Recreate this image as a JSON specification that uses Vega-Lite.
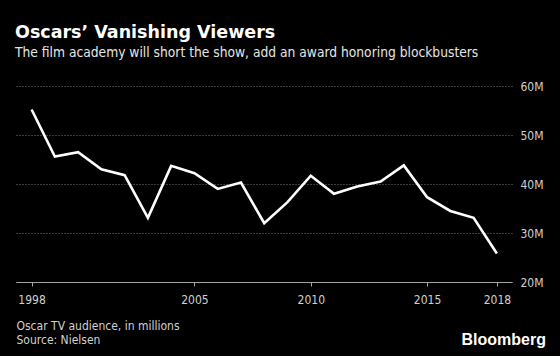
{
  "$schema": "https://vega.github.io/schema/vega-lite/v6.json",
  "width": 496,
  "height": 196,
  "autosize": {"type": "none"},
  "padding": {"left": 16, "top": 86, "right": 48, "bottom": 74},
  "background": "#000000",
  "title": {
    "text": "Oscars’ Vanishing Viewers",
    "subtitle": "The film academy will short the show, add an award honoring blockbusters",
    "anchor": "start",
    "frame": "group",
    "offset": 20,
    "font": "DejaVu Sans",
    "fontSize": 17.5,
    "fontWeight": "bold",
    "color": "#ffffff",
    "subtitleFont": "DejaVu Sans Condensed",
    "subtitleFontSize": 13.7,
    "subtitleColor": "#e6e6e6",
    "subtitlePadding": 5,
    "dx": -1
  },
  "data": {
    "values": [
      {"year": 1998, "viewers": 55.2},
      {"year": 1999, "viewers": 45.6},
      {"year": 2000, "viewers": 46.5},
      {"year": 2001, "viewers": 43.0},
      {"year": 2002, "viewers": 41.8},
      {"year": 2003, "viewers": 33.1},
      {"year": 2004, "viewers": 43.7},
      {"year": 2005, "viewers": 42.2},
      {"year": 2006, "viewers": 39.0},
      {"year": 2007, "viewers": 40.3},
      {"year": 2008, "viewers": 32.0},
      {"year": 2009, "viewers": 36.3},
      {"year": 2010, "viewers": 41.7},
      {"year": 2011, "viewers": 38.0},
      {"year": 2012, "viewers": 39.5},
      {"year": 2013, "viewers": 40.5},
      {"year": 2014, "viewers": 43.8},
      {"year": 2015, "viewers": 37.3},
      {"year": 2016, "viewers": 34.5},
      {"year": 2017, "viewers": 33.1},
      {"year": 2018, "viewers": 25.8}
    ]
  },
  "layer": [
    {
      "mark": {"type": "line", "color": "#ffffff", "strokeWidth": 2.6, "strokeJoin": "miter"},
      "encoding": {
        "x": {
          "field": "year",
          "type": "quantitative",
          "scale": {"domain": [1997.33, 2018.65], "nice": false, "zero": false},
          "axis": {
            "values": [1998, 2005, 2010, 2015, 2018],
            "format": "d",
            "grid": false,
            "domainColor": "#a6a6a6",
            "domainWidth": 1,
            "tickColor": "#a6a6a6",
            "tickSize": 4,
            "labelColor": "#d0d0d0",
            "labelFont": "DejaVu Sans Condensed",
            "labelFontSize": 12,
            "labelPadding": 8,
            "title": ["Oscar TV audience, in millions", "Source: Nielsen"],
            "titleFont": "DejaVu Sans Condensed",
            "titleFontSize": 12,
            "titleFontWeight": "normal",
            "titleColor": "#d0d0d0",
            "titleAnchor": "start",
            "titleAlign": "left",
            "titleBaseline": "alphabetic",
            "titleX": 0,
            "titleY": 47,
            "titleLineHeight": 14.5
          }
        },
        "y": {
          "field": "viewers",
          "type": "quantitative",
          "scale": {"domain": [20, 60], "nice": false, "zero": false},
          "axis": {
            "orient": "right",
            "values": [20, 30, 40, 50, 60],
            "labelExpr": "datum.value + 'M'",
            "domain": false,
            "ticks": false,
            "grid": true,
            "gridColor": "#7a7a7a",
            "gridDash": [1, 2],
            "gridWidth": 1,
            "labelColor": "#d0d0d0",
            "labelFont": "DejaVu Sans Condensed",
            "labelFontSize": 12,
            "labelPadding": 8,
            "title": null
          }
        }
      }
    },
    {
      "data": {"values": [{"brand": "Bloomberg"}]},
      "mark": {
        "type": "text",
        "align": "right",
        "baseline": "alphabetic",
        "font": "Liberation Sans",
        "fontSize": 16,
        "fontWeight": "bold",
        "color": "#ffffff",
        "dx": 34,
        "dy": 63
      },
      "encoding": {
        "x": {"value": "width"},
        "y": {"value": "height"},
        "text": {"field": "brand"}
      }
    }
  ],
  "config": {
    "view": {"stroke": null}
  }
}
